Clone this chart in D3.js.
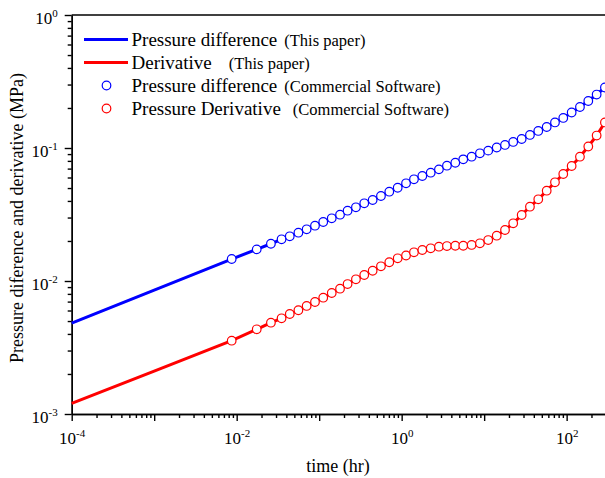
<!DOCTYPE html>
<html>
<head>
<meta charset="utf-8">
<title>pressure derivative</title>
<script src="https://cdn.jsdelivr.net/npm/d3@7"></script>
<style>
  body { margin: 0; background: #fff; }
  svg { display: block; font-family: "Liberation Serif", "Times New Roman", serif; }
</style>
</head>
<body>
<svg width="605" height="478"></svg>
<script>
// time (hr) of the commercial software points
var times = [0.0087, 0.0175, 0.026, 0.035, 0.044, 0.056, 0.0705, 0.089, 0.112, 0.142,
  0.179, 0.221, 0.279, 0.352, 0.445, 0.561, 0.708, 0.895, 1.13, 1.41,
  1.78, 2.25, 2.83, 3.54, 4.47, 5.58, 7.05, 8.89, 11.2, 14.2,
  17.9, 22.5, 28.5, 35.9, 45.3, 57.3, 72.2, 91.0, 115, 145,
  183, 231, 291];
// pressure difference, commercial software (MPa)
var dpSoftware = [0.01463, 0.0173, 0.01906, 0.02059, 0.02168, 0.02307, 0.02448, 0.02606, 0.02778, 0.0296,
  0.0315, 0.03378, 0.03581, 0.03838, 0.04064, 0.04355, 0.04691, 0.05027, 0.05428, 0.05816,
  0.06158, 0.0652, 0.06911, 0.07358, 0.07748, 0.08218, 0.086, 0.09125, 0.0955, 0.1009,
  0.1054, 0.111, 0.1169, 0.1253, 0.1343, 0.1439, 0.1556, 0.1682, 0.1849, 0.2034,
  0.2256, 0.2523, 0.2851];
// pressure derivative, commercial software (MPa)
var derivSoftware = [0.003556, 0.004335, 0.004857, 0.005243, 0.005649, 0.006025, 0.006491, 0.006953, 0.007487, 0.008122,
  0.00875, 0.009489, 0.0103, 0.01109, 0.01194, 0.0129, 0.01383, 0.01482, 0.01555, 0.01643,
  0.01711, 0.01762, 0.01811, 0.01832, 0.01841, 0.01841, 0.01866, 0.0192, 0.02032, 0.02191,
  0.02417, 0.02715, 0.03134, 0.03619, 0.04115, 0.04775, 0.05521, 0.06378, 0.07325, 0.086,
  0.1026, 0.1241, 0.1556];
// early time part of the model curves (this paper)
var earlyTimes = [0.0001, 0.001];
var earlyDp = [0.00483, 0.00855];
var earlyDeriv = [0.0012, 0.0021];

var xMajor = [1e-4, 1e-3, 1e-2, 1e-1, 1e0, 1e1, 1e2];
var yMajor = [1e-3, 1e-2, 1e-1, 1e0];

var svg = d3.select("svg");
var x = d3.scaleLog().domain([1e-4, 300]).range([71.7, 606]);
var y = d3.scaleLog().domain([1e-3, 1]).range([414, 15]);

var lineTimes = earlyTimes.concat(times);
var dpAll = earlyDp.concat(dpSoftware), derivAll = earlyDeriv.concat(derivSoftware);
var dpLine = lineTimes.map(function(t, i){ return [t, dpAll[i]]; });
var derivLine = lineTimes.map(function(t, i){ return [t, derivAll[i]]; });

// minor tick values 2..9 per decade
var xMinor = [], yMinor = [];
xMajor.forEach(function(d){ for (var k = 2; k < 10; k++) if (d * k <= 300) xMinor.push(d * k); });
yMajor.slice(0, 3).forEach(function(d){ for (var k = 2; k < 10; k++) yMinor.push(d * k); });

function supLabel(sel, f) {
  sel.each(function(d){
    var t = d3.select(this);
    var e = Math.round(Math.log10(d));
    t.text("");
    if (!f(e)) return;
    t.append("tspan").text("10");
    t.append("tspan").attr("dy", -7).attr("font-size", 11).text(e);
  });
}

// x axis
var gx = svg.append("g").attr("transform", "translate(0,414)");
gx.append("g").call(d3.axisBottom(x).tickValues(xMinor).tickSize(4).tickSizeOuter(0).tickFormat(""))
  .selectAll(".tick text").remove();
var gxMaj = gx.append("g").call(d3.axisBottom(x).tickValues(xMajor).tickSize(7).tickSizeOuter(0));
gxMaj.selectAll(".tick text").attr("y", 30).attr("dy", null).attr("font-size", 17)
  .attr("font-family", "Liberation Serif").attr("fill", "#000")
  .call(supLabel, function(e){ return e % 2 === 0; });

// y axis
var gy = svg.append("g").attr("transform", "translate(71.7,0)");
gy.append("g").call(d3.axisLeft(y).tickValues(yMinor).tickSize(4).tickSizeOuter(0).tickFormat(""))
  .selectAll(".tick text").remove();
var gyMaj = gy.append("g").call(d3.axisLeft(y).tickValues(yMajor).tickSize(7).tickSizeOuter(0));
gyMaj.selectAll(".tick text").attr("x", -14).attr("dy", null).attr("y", 8).attr("font-size", 17)
  .attr("font-family", "Liberation Serif").attr("fill", "#000")
  .call(supLabel, function(){ return true; });

svg.selectAll(".domain, .tick line").attr("stroke", "#000").attr("stroke-width", 1.4);

// top frame line
svg.append("line").attr("x1", x(1e-4)).attr("x2", 605).attr("y1", y(1)).attr("y2", y(1))
  .attr("stroke", "#000").attr("stroke-width", 1.4);

// curves
var line = d3.line().x(function(d){ return x(d[0]); }).y(function(d){ return y(d[1]); });
svg.append("path").datum(dpLine).attr("d", line).attr("fill", "none")
  .attr("stroke", "#0000ff").attr("stroke-width", 3);
svg.append("path").datum(derivLine).attr("d", line).attr("fill", "none")
  .attr("stroke", "#ff0000").attr("stroke-width", 3);

svg.append("g").selectAll("circle").data(times).enter().append("circle")
  .attr("cx", function(d){ return x(d); })
  .attr("cy", function(d, i){ return y(dpSoftware[i]); })
  .attr("r", 4.3).attr("fill", "#fff").attr("stroke", "#0000ff").attr("stroke-width", 1.2);
svg.append("g").selectAll("circle").data(times).enter().append("circle")
  .attr("cx", function(d){ return x(d); })
  .attr("cy", function(d, i){ return y(derivSoftware[i]); })
  .attr("r", 4.3).attr("fill", "#fff").attr("stroke", "#ff0000").attr("stroke-width", 1.2);

// legend
var legend = [
  {name: "Pressure difference", note: "(This paper)", gap: 7, color: "#0000ff", type: "line"},
  {name: "Derivative", note: "(This paper)", gap: 17, color: "#ff0000", type: "line"},
  {name: "Pressure difference", note: "(Commercial Software)", gap: 7, color: "#0000ff", type: "circle"},
  {name: "Pressure Derivative", note: "(Commercial Software)", gap: 12, color: "#ff0000", type: "circle"}
];
var lg = svg.append("g").selectAll("g").data(legend).enter().append("g")
  .attr("transform", function(d, i){ return "translate(0," + (39.5 + i * 23) + ")"; });
lg.filter(function(d){ return d.type === "line"; }).append("line")
  .attr("x1", 84).attr("x2", 128).attr("stroke", function(d){ return d.color; }).attr("stroke-width", 3);
lg.filter(function(d){ return d.type === "circle"; }).append("circle")
  .attr("cx", 106.5).attr("r", 4.3).attr("fill", "#fff")
  .attr("stroke", function(d){ return d.color; }).attr("stroke-width", 1.2);
var lt = lg.append("text").attr("x", 131.5).attr("y", 6.5).attr("fill", "#000");
lt.append("tspan").attr("font-size", 19).text(function(d){ return d.name; });
lt.append("tspan").attr("font-size", 16.5).attr("dx", function(d){ return d.gap; }).text(function(d){ return d.note; });

// axis titles
svg.append("text").attr("x", 338).attr("y", 472).attr("text-anchor", "middle")
  .attr("font-size", 18).text("time (hr)");
svg.append("text").attr("transform", "translate(23,218) rotate(-90)").attr("text-anchor", "middle")
  .attr("font-size", 18).text("Pressure diference and derivative (MPa)");
</script>
</body>
</html>
